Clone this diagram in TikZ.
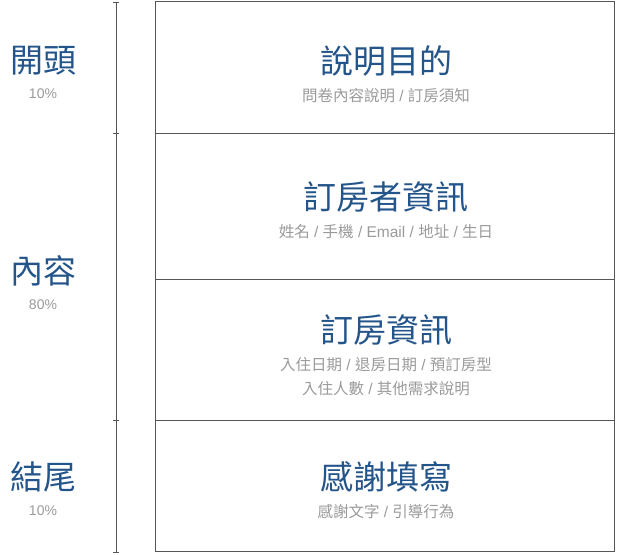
\documentclass[tikz,border=0pt]{standalone}
\usepackage{fontspec}
\newfontfamily\cjk{Noto Sans CJK TC}
\newfontfamily\latin{Liberation Sans}
\definecolor{titleblue}{HTML}{24558A}
\definecolor{subgrey}{HTML}{9A9A9A}
\definecolor{linegrey}{HTML}{555555}
\usetikzlibrary{positioning}
\newcommand{\sep}{{\latin\ /\ }}
\begin{document}
\begin{tikzpicture}[x=1pt,y=-1pt,
    title/.style={text=titleblue,font=\cjk\fontsize{33}{36}\selectfont,inner sep=0pt},
    sub/.style={text=subgrey,font=\cjk\fontsize{15.5}{18}\selectfont,inner sep=0pt},
    pct/.style={text=subgrey,font=\latin\fontsize{14}{17}\selectfont,inner sep=0pt},
    rule/.style={draw=linegrey,line width=0.9pt}]
        \useasboundingbox (0,0) rectangle (617,554);
        % left axis
        \coordinate (t0) at (116,2);
        \coordinate (t1) at (116,133);
        \coordinate (t2) at (116,420);
        \coordinate (t3) at (116,552);
        \draw[rule,line width=0.7pt] (t0) -- (t3);
        \foreach \t in {t0,t1,t2,t3}
            \draw[rule,line width=0.7pt] ([xshift=-3pt]\t) -- ([xshift=3pt]\t);
        \node[title] (start) at (43,61) {開頭};
        \node[pct,below=13pt of start] (startp) {10\%};
        \node[title] (body) at (43,271) {內容};
        \node[pct,below=13pt of body] (bodyp) {80\%};
        \node[title] (end) at (43,477) {結尾};
        \node[pct,below=13pt of end] (endp) {10\%};
        % the form
        \draw[rule] (155,1.5) rectangle (614.5,551);
        \draw[rule] (155,133) -- (614.5,133);
        \draw[rule] (155,279) -- (614.5,279);
        \draw[rule] (155,420) -- (614.5,420);
        \node[title] (purpose) at (386,61) {說明目的};
        \node[sub,below=12pt of purpose] (purposes) {問卷內容說明\sep 訂房須知};
        \node[title] (guest) at (386,197) {訂房者資訊};
        \node[sub,below=12pt of guest] (guests) {姓名\sep 手機\sep {\latin Email}\sep 地址\sep 生日};
        \node[title] (room) at (386,330) {訂房資訊};
        \node[sub,below=12pt of room] (rooms) {入住日期\sep 退房日期\sep 預訂房型};
        \node[sub,below=9pt of rooms] (rooms2) {入住人數\sep 其他需求說明};
        \node[title] (thanks) at (386,477) {感謝填寫};
        \node[sub,below=12pt of thanks] (thankss) {感謝文字\sep 引導行為};
\end{tikzpicture}
\end{document}
